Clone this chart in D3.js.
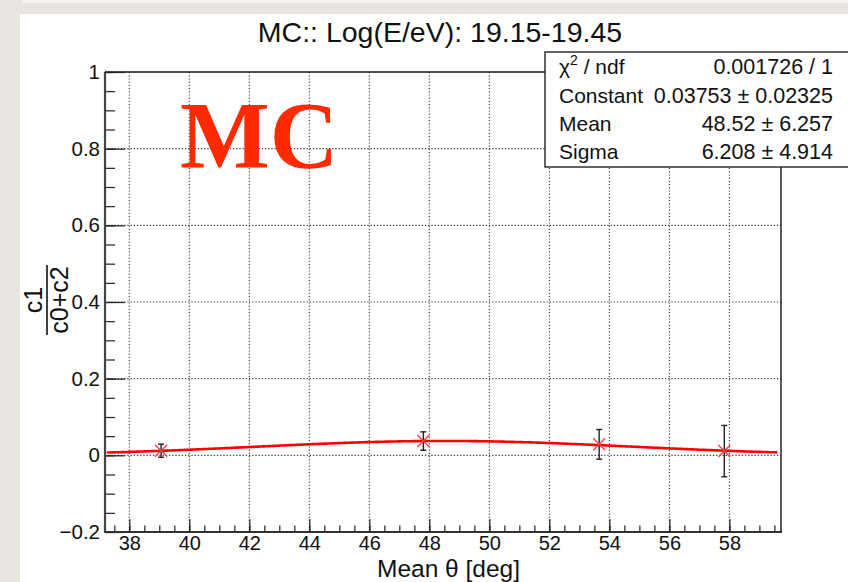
<!DOCTYPE html>
<html>
<head>
<meta charset="utf-8">
<script src="https://cdn.jsdelivr.net/npm/d3@7"></script>
<style>
  body { margin: 0; background: #e8e5e0; }
  svg { display: block; }
</style>
</head>
<body>
<svg id="chart" width="848" height="582"></svg>
<script>
// data
var theta = [39.06, 47.8, 53.66, 57.83];
var ratio = [0.012, 0.0373, 0.0287, 0.011];
var ratio_err = [0.017, 0.024, 0.0387, 0.067];

// gaussian fit shown in the stats box
var fit_constant = 0.03753;
var fit_mean = 48.52;
var fit_sigma = 6.208;

var x_ticks = [38, 40, 42, 44, 46, 48, 50, 52, 54, 56, 58];
var y_ticks = [-0.2, 0, 0.2, 0.4, 0.6, 0.8, 1];
var y_tick_labels = ["\u22120.2", "0", "0.2", "0.4", "0.6", "0.8", "1"];

var stats_labels = ["ndf", "Constant", "Mean", "Sigma"];
var stats_values = ["0.001726 / 1", "0.03753 \u00b1 0.02325", "48.52 \u00b1 6.257", "6.208 \u00b1 4.914"];

var title_text = "MC:: Log(E/eV): 19.15-19.45";

var sans = '"Liberation Sans", Arial, Helvetica, sans-serif';
var svg = d3.select('#chart');

// paper background + white pad
svg.append('rect').attr('x', 0).attr('y', 0).attr('width', 848).attr('height', 582).attr('fill', '#e8e5e0');
svg.append('rect').attr('x', 22).attr('y', 0).attr('width', 826).attr('height', 3).attr('fill', '#f4f3f0');
svg.append('rect').attr('x', 20).attr('y', 14).attr('width', 828).attr('height', 568).attr('fill', '#ffffff');

var p_left = 105, p_right = 781, p_top = 72, p_bottom = 532;

var x = d3.scaleLinear().domain([37.19, 59.72]).range([p_left, p_right]);
var y = d3.scaleLinear().domain([-0.2, 1]).range([p_bottom, p_top]);

var plot = svg.append('g');

// dotted grid
plot.selectAll('line.vgrid').data(x_ticks).enter().append('line')
  .attr('class', 'vgrid')
  .attr('x1', function (d) { return x(d); }).attr('x2', function (d) { return x(d); })
  .attr('y1', p_top).attr('y2', p_bottom)
  .attr('stroke', '#333').attr('stroke-width', 1.1).attr('stroke-dasharray', '1.2,2');
plot.selectAll('line.hgrid').data(y_ticks).enter().append('line')
  .attr('class', 'hgrid')
  .attr('x1', p_left).attr('x2', p_right)
  .attr('y1', function (d) { return y(d); }).attr('y2', function (d) { return y(d); })
  .attr('stroke', '#333').attr('stroke-width', 1.1).attr('stroke-dasharray', '1.2,2');

// axes (ROOT style ticks drawn inside)
var x_minor = d3.range(37.5, 59.6, 0.5);
var y_minor = d3.range(-0.2, 1.001, 0.05);

var xAxis = d3.axisBottom(x).tickValues(x_minor).tickSize(-6.5).tickFormat('');
svg.append('g').attr('transform', 'translate(0,' + p_bottom + ')').call(xAxis);
var xAxisMajor = d3.axisBottom(x).tickValues(x_ticks).tickSize(-13).tickPadding(4).tickFormat(d3.format('d'));
var gx = svg.append('g').attr('transform', 'translate(0,' + p_bottom + ')').call(xAxisMajor);

var yAxis = d3.axisLeft(y).tickValues(y_minor).tickSize(-10).tickFormat('');
svg.append('g').attr('transform', 'translate(' + p_left + ',0)').call(yAxis);
var yAxisMajor = d3.axisLeft(y).tickValues(y_ticks).tickSize(-20)
  .tickFormat(function (d, i) { return y_tick_labels[i]; });
var gy = svg.append('g').attr('transform', 'translate(' + p_left + ',0)').call(yAxisMajor);

svg.selectAll('.domain').remove();
svg.selectAll('.tick line').attr('stroke', '#222').attr('stroke-width', 1.2);
gx.selectAll('text').attr('font-size', 20).attr('fill', '#111').attr('font-family', sans);
gy.selectAll('text').attr('font-size', 20.5).attr('fill', '#111').attr('font-family', sans)
  .attr('x', -5).attr('text-anchor', 'end');

// frame
svg.append('line').attr('x1', p_left).attr('x2', p_left).attr('y1', p_top).attr('y2', p_bottom + 1).attr('stroke', '#444').attr('stroke-width', 2.2);
svg.append('line').attr('x1', p_left).attr('x2', p_right + 1).attr('y1', p_bottom).attr('y2', p_bottom).attr('stroke', '#333').attr('stroke-width', 2.2);
svg.append('line').attr('x1', p_right).attr('x2', p_right).attr('y1', p_top).attr('y2', p_bottom).attr('stroke', '#222').attr('stroke-width', 1.5);
svg.append('line').attr('x1', p_left).attr('x2', p_right).attr('y1', p_top).attr('y2', p_top).attr('stroke', '#222').attr('stroke-width', 1.5);

// fit curve
var fit_x = d3.range(37.25, 59.62, 0.05);
var line = d3.line()
  .x(function (d) { return x(d); })
  .y(function (d) { return y(fit_constant * Math.exp(-0.5 * Math.pow((d - fit_mean) / fit_sigma, 2))); });
svg.append('path').datum(fit_x).attr('d', line)
  .attr('fill', 'none').attr('stroke', '#ff0000').attr('stroke-width', 2.6);

// error bars + markers
var pts = svg.append('g');
for (var i = 0; i < theta.length; i++) {
  var cx = x(theta[i]);
  var y0 = y(ratio[i] - ratio_err[i]), y1 = y(ratio[i] + ratio_err[i]);
  pts.append('line').attr('x1', cx).attr('x2', cx).attr('y1', y0).attr('y2', y1).attr('stroke', '#222').attr('stroke-width', 1.4);
  pts.append('line').attr('x1', cx - 3).attr('x2', cx + 3).attr('y1', y0).attr('y2', y0).attr('stroke', '#222').attr('stroke-width', 1.4);
  pts.append('line').attr('x1', cx - 3).attr('x2', cx + 3).attr('y1', y1).attr('y2', y1).attr('stroke', '#222').attr('stroke-width', 1.4);
  var cy = y(ratio[i]);
  pts.append('path')
    .attr('d', 'M' + (cx - 6) + ',' + (cy - 6) + 'L' + (cx + 6) + ',' + (cy + 6) + 'M' + (cx - 6) + ',' + (cy + 6) + 'L' + (cx + 6) + ',' + (cy - 6))
    .attr('stroke', '#ff4040').attr('stroke-width', 1.4).attr('fill', 'none');
}

// big MC label
svg.append('text').attr('x', 180).attr('y', 168)
  .style('font-family', '"Liberation Serif", "Times New Roman", Times, serif').style('font-weight', 'bold')
  .style('font-size', '95px').style('fill', '#ff2a00').text('MC');

// title
svg.append('text').attr('x', 440).attr('y', 42).attr('text-anchor', 'middle')
  .style('font-family', sans).style('font-size', '28.5px').style('fill', '#111').text(title_text);

// y axis title: c1 / (c0+c2)
var yt = svg.append('g').attr('transform', 'translate(47,300) rotate(-90)');
yt.append('text').attr('x', 0).attr('y', -5).attr('text-anchor', 'middle')
  .style('font-family', sans).style('font-size', '25px').style('fill', '#111').text('c1');
yt.append('line').attr('x1', -35).attr('x2', 35).attr('y1', 0).attr('y2', 0).attr('stroke', '#111').attr('stroke-width', 1.6);
yt.append('text').attr('x', 0).attr('y', 21).attr('text-anchor', 'middle')
  .style('font-family', sans).style('font-size', '25px').style('fill', '#111').text('c0+c2');

// x axis title
svg.append('text').attr('x', 520).attr('y', 577).attr('text-anchor', 'end')
  .style('font-family', sans).style('font-size', '24.5px').style('fill', '#111').text('Mean \u03b8 [deg]');

// stats box
svg.append('rect').attr('x', 545).attr('y', 52).attr('width', 320).attr('height', 115)
  .attr('fill', '#fff').attr('stroke', '#222').attr('stroke-width', 1.4);
var row_y = [74, 103, 131, 159];
for (var k = 0; k < stats_labels.length; k++) {
  var lab = svg.append('text').attr('x', 559).attr('y', row_y[k])
    .style('font-family', sans).style('font-size', '21px').style('fill', '#111');
  if (k == 0) {
    lab.append('tspan').text('\u03c7');
    lab.append('tspan').style('font-size', '14px').attr('dy', -9).text('2');
    lab.append('tspan').attr('dy', 9).text(' / ndf');
  } else {
    lab.text(stats_labels[k]);
  }
  svg.append('text').attr('x', 833).attr('y', row_y[k]).attr('text-anchor', 'end')
    .style('font-family', sans).style('font-size', '21.5px').style('fill', '#111').text(stats_values[k]);
}
</script>
</body>
</html>
